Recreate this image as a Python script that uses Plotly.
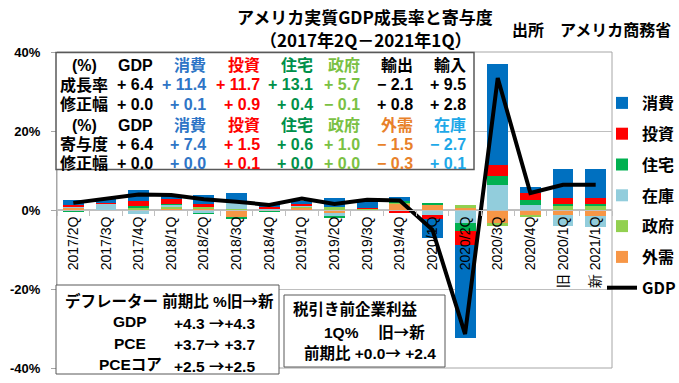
import plotly.graph_objects as go

# ---------------- data ----------------
quarters = ["2017/2Q", "2017/3Q", "2017/4Q", "2018/1Q", "2018/2Q", "2018/3Q", "2018/4Q",
            "2019/1Q", "2019/2Q", "2019/3Q", "2019/4Q", "2020/1Q", "2020/2Q", "2020/3Q",
            "2020/4Q", "旧 2020/1Q", "新 2021/1Q"]
gdp = [1.8, 2.9, 3.9, 3.8, 2.7, 2.1, 1.3, 2.9, 1.5, 2.6, 2.4, -5.0, -31.4, 33.4, 4.3, 6.4, 6.4]
consumption = [1.2, 1.2, 2.7, 0.9, 2.2, 2.4, 0.8, 0.7, 2.2, 2.2, 1.1, -4.8, -23.6, 25.4, 1.7, 7.4, 7.4]
investment = [0.3, 0.2, 1.3, 1.5, 0.8, 0.1, 0.4, 0.4, 0.0, 0.1, -0.2, -1.0, -3.5, 3.0, 1.6, 1.4, 1.5]
housing = [-0.3, -0.1, 0.4, 0.1, -0.1, -0.2, -0.2, -0.1, -0.1, 0.2, 0.2, 0.3, -1.9, 2.2, 1.4, 0.6, 0.6]
inventory = [0.6, 1.6, -1.0, 0.6, -0.9, 1.6, 0.3, 0.3, -1.0, -0.1, -0.4, -1.2, -3.4, 6.3, 1.2, -2.8, -2.7]
government = [-0.2, -0.1, 0.5, 0.4, 0.4, 0.2, -0.2, 0.2, 0.8, 0.3, 0.4, 0.2, 0.7, -0.8, -0.2, 1.0, 1.0]
net_exports = [0.4, 0.0, 0.2, 0.3, 0.3, -1.9, 0.1, 0.6, -0.7, -0.1, 1.6, 1.3, 0.6, -3.2, -1.5, -1.2, -1.5]

y_ticks = [-40, -20, 0, 20, 40]
y_ticklabels = ["-40%", "-20%", "0%", "20%", "40%"]

table_rows = [
    ["(%)", "GDP", "消費", "投資", "住宅", "政府", "輸出", "輸入"],
    ["成長率", "+ 6.4", "+ 11.4", "+ 11.7", "+ 13.1", "+ 5.7", "− 2.1", "+ 9.5"],
    ["修正幅", "+ 0.0", "+ 0.1", "+ 0.9", "+ 0.4", "− 0.1", "+ 0.8", "+ 2.8"],
    ["(%)", "GDP", "消費", "投資", "住宅", "政府", "外需", "在庫"],
    ["寄与度", "+ 6.4", "+ 7.4", "+ 1.5", "+ 0.6", "+ 1.0", "− 1.5", "− 2.7"],
    ["修正幅", "+ 0.0", "+ 0.0", "+ 0.1", "+ 0.0", "+ 0.0", "− 0.3", "+ 0.1"],
]

deflator_title = "デフレーター 前期比 %旧→新"
deflator_labels = ["GDP", "PCE", "PCEコア"]
deflator_values = ["+4.3 →+4.3", "+3.7→ +3.7", "+2.5 →+2.5"]
profit_lines = ["税引き前企業利益", "1Q%　 旧→新", "前期比 +0.0→ +2.4"]

# ---------------- style ----------------
C_CONS, C_INV, C_HOUS = "#0070C0", "#FF0000", "#00B050"
C_STOCK, C_GOV, C_NX = "#92CDDC", "#92D050", "#F79646"
T_BLUE, T_RED, T_GREEN, T_LGREEN, T_ORANGE, T_LBLUE = (
    "#2E75C6", "#FF0000", "#00904A", "#7AC143", "#E8812A", "#1EA8E8")
row_colors_a = ["black", "black", T_BLUE, T_RED, T_GREEN, T_LGREEN, "black", "black"]
row_colors_b = ["black", "black", T_BLUE, T_RED, T_GREEN, T_LGREEN, T_ORANGE, T_LBLUE]

FONT = "Liberation Sans, Arial, Noto Sans CJK JP, sans-serif"
JFONT = "Noto Sans CJK JP, sans-serif"

W, H = 679, 383
PL, PR, PT, PB = 57, 612, 52, 368


def fx(px):
    return (px - PL) / (PR - PL)


def fy(py):
    return (PB - py) / (PB - PT)


def cjk_arrow(s):
    return s.replace("→", "<span style='font-family:Noto Sans CJK JP'>→</span>")


xs = list(range(len(quarters)))

fig = go.Figure()
series = [("外需", net_exports, C_NX, 6), ("政府", government, C_GOV, 5), ("在庫", inventory, C_STOCK, 4),
          ("住宅", housing, C_HOUS, 3), ("投資", investment, C_INV, 2), ("消費", consumption, C_CONS, 1)]
for nm, vals, col, rank in series:
    fig.add_trace(go.Bar(x=xs, y=vals, name=nm, marker=dict(color=col, line=dict(width=0)),
                         width=0.64, legendgroup="g%d" % rank, legendrank=rank))
fig.add_trace(go.Scatter(x=xs, y=gdp, name="GDP", mode="lines",
                         line=dict(color="black", width=4), legendgroup="g7", legendrank=7))

annotations = []
# title
annotations.append(dict(text="アメリカ実質GDP成長率と寄与度", x=fx(365), y=fy(16), xref="paper", yref="paper",
                        showarrow=False, xanchor="center", yanchor="middle",
                        font=dict(family=JFONT, size=17, color="black", weight=700)))
annotations.append(dict(text="（2017年2Q－2021年1Q）", x=fx(365), y=fy(39), xref="paper", yref="paper",
                        showarrow=False, xanchor="center", yanchor="middle",
                        font=dict(family=JFONT, size=17, color="black", weight=700)))
annotations.append(dict(text="出所　アメリカ商務省", x=fx(591), y=fy(29), xref="paper", yref="paper",
                        showarrow=False, xanchor="center", yanchor="middle",
                        font=dict(family=JFONT, size=16, color="black", weight=700)))

# table
col_right = [None, 155, 208, 262, 315, 362, 415, 468]
row_y = [65, 84.5, 104.5, 125, 144, 163]
for r, row in enumerate(table_rows):
    cols = row_colors_a if r < 3 else row_colors_b
    for c, txt in enumerate(row):
        if c == 0:
            ax, xa = 84, "center"
        else:
            ax, xa = col_right[c], "right"
        annotations.append(dict(text=txt, x=fx(ax), y=fy(row_y[r]), xref="paper", yref="paper",
                                showarrow=False, xanchor=xa, yanchor="middle",
                                font=dict(family=FONT, size=16, color=cols[c], weight=700)))

# deflator box
annotations.append(dict(text=cjk_arrow(deflator_title), x=fx(63), y=fy(300), xref="paper", yref="paper",
                        showarrow=False, xanchor="left", yanchor="middle",
                        font=dict(family=FONT, size=15.5, color="black", weight=700)))
for i, (lab, val) in enumerate(zip(deflator_labels, deflator_values)):
    yy = [321.5, 343, 364.5][i]
    annotations.append(dict(text=lab, x=fx(130), y=fy(yy), xref="paper", yref="paper",
                            showarrow=False, xanchor="center", yanchor="middle",
                            font=dict(family=FONT, size=15.5, color="black", weight=700)))
    annotations.append(dict(text=cjk_arrow(val), x=fx(172), y=fy(yy), xref="paper", yref="paper",
                            showarrow=False, xanchor="left", yanchor="middle",
                            font=dict(family=FONT, size=15.5, color="black", weight=700)))
# profit box
for i, (txt, xl) in enumerate(zip(profit_lines, [291, 322, 302])):
    yy = [309, 331, 352][i]
    annotations.append(dict(text=cjk_arrow(txt), x=fx(xl), y=fy(yy), xref="paper", yref="paper",
                            showarrow=False, xanchor="left", yanchor="middle",
                            font=dict(family=FONT, size=15.5, color="black", weight=700)))

shapes = [
    dict(type="rect", xref="paper", yref="paper", x0=0, x1=1, y0=0, y1=1,
         line=dict(color="#A6A6A6", width=1), layer="below"),
    dict(type="rect", xref="paper", yref="paper", x0=fx(56), x1=fx(474), y0=fy(169.5), y1=fy(52.5),
         line=dict(color="#595959", width=1.5), fillcolor="white", layer="above"),
    dict(type="rect", xref="paper", yref="paper", x0=fx(56), x1=fx(279), y0=fy(374), y1=fy(285),
         line=dict(color="#595959", width=1), fillcolor="white", layer="above"),
    dict(type="rect", xref="paper", yref="paper", x0=fx(284), x1=fx(445), y0=fy(367), y1=fy(295),
         line=dict(color="#595959", width=1), fillcolor="white", layer="above"),
]

fig.update_layout(
    width=W, height=H,
    margin=dict(l=PL, r=W - PR, t=PT, b=H - PB, autoexpand=False),
    paper_bgcolor="white", plot_bgcolor="white",
    barmode="relative", bargap=0,
    showlegend=True,
    legend=dict(x=fx(602), y=fy(86), xanchor="left", yanchor="top", bgcolor="rgba(0,0,0,0)",
                traceorder="grouped", tracegroupgap=7, itemwidth=30,
                font=dict(family=JFONT, size=16, color="black", weight=700)),
    annotations=annotations, shapes=shapes,
    xaxis=dict(range=[-0.5, len(quarters) - 0.5], tickmode="array", tickvals=xs, ticktext=quarters,
               tickangle=-90, anchor="free", position=0.5, showgrid=False, zeroline=False,
               showline=True, linecolor="#BFBFBF", linewidth=1, ticks="",
               tickfont=dict(family=FONT, size=14, color="black"),
               minor=dict(tickmode="linear", tick0=-0.5, dtick=1, ticks="outside", ticklen=5,
                          tickcolor="#BFBFBF", showgrid=False)),
    yaxis=dict(range=[-40, 40], tickmode="array", tickvals=y_ticks, ticktext=y_ticklabels,
               showgrid=True, gridcolor="#BFBFBF", gridwidth=1, zeroline=True, zerolinecolor="#BFBFBF",
               showline=True, linecolor="#A6A6A6", ticks="outside", ticklen=5, tickcolor="#A6A6A6",
               ticklabelstandoff=8,
               tickfont=dict(family=FONT, size=13, color="black", weight=700)),
)

fig.write_html("out.html", config={"displayModeBar": False},
               post_script="document.body.style.margin='0';")
